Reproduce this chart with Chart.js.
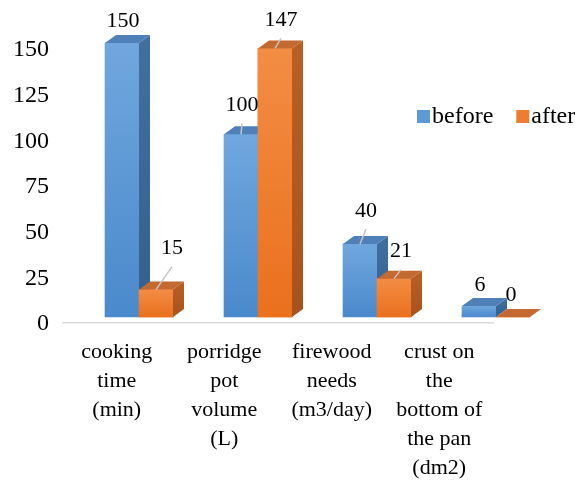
<!DOCTYPE html>
<html>
<head>
<meta charset="utf-8">
<script src="https://cdn.jsdelivr.net/npm/chart.js@4/dist/chart.umd.min.js"></script>
<style>
  html, body { margin: 0; padding: 0; background: #ffffff; }
  #wrap { width: 580px; height: 482px; }
</style>
</head>
<body>
<div id="wrap"><canvas id="chart" width="580" height="482"></canvas></div>
<script>
// ---- data ----
const categories = [
  ['cooking', 'time', '(min)'],
  ['porridge', 'pot', 'volume', '(L)'],
  ['firewood', 'needs', '(m3/day)'],
  ['crust on', 'the', 'bottom of', 'the pan', '(dm2)']
];
const seriesNames = ['before', 'after'];
const beforeValues = [150, 100, 40, 6];
const afterValues = [15, 147, 21, 0];
const yTicks = [0, 25, 50, 75, 100, 125, 150];

// ---- layout / style ----
// value-label placement relative to the top-front centre of each bar, px
const beforeLabelShift = [[1, -22], [1, -29], [6, -33], [1, -21]];
const afterLabelShift = [[16, -41], [6, -28], [7, -27], [-2, -22]];

const SERIF = '"Liberation Serif", "Times New Roman", Times, serif';
const DEPTH_X = 11;     // extrusion of the 3D bars to the right
const DEPTH_Y = 8;      // extrusion of the 3D bars upwards
const BAR_W = 34;
const PLOT_LEFT = 63, PLOT_RIGHT = 493;
const FIRST_GROUP_PX = 139, GROUP_STEP_PX = 119;

const palette = {
  before: { frontTop: '#70a7de', frontBottom: '#4a89cc', sideTop: '#41709f', sideBottom: '#345f8f', top: '#4f80b7', key: '#5b9bd5' },
  after:  { frontTop: '#f38d44', frontBottom: '#ea701d', sideTop: '#b95f25', sideBottom: '#a8521b', top: '#c4692f', key: '#ed7d31' }
};

// the bar index axis is linear so the perspective-shifted groups can sit
// independently of the floor category labels
const idxMin = -(FIRST_GROUP_PX - PLOT_LEFT) / GROUP_STEP_PX;
const idxMax = idxMin + (PLOT_RIGHT - PLOT_LEFT) / GROUP_STEP_PX;

function frontFill(pal) {
  return (c) => {
    const chart = c.chart;
    if (!chart.chartArea || !c.parsed) return pal.frontBottom;
    const ys = chart.scales.y;
    const top = ys.getPixelForValue(c.parsed.y);
    const base = ys.getPixelForValue(0);
    if (base - top < 1) return pal.frontBottom;
    const g = chart.ctx.createLinearGradient(0, top, 0, base);
    g.addColorStop(0, pal.frontTop);
    g.addColorStop(1, pal.frontBottom);
    return g;
  };
}

function drawDepth(ctx, el, pal) {
  const { x, y, base, width } = el.getProps(['x', 'y', 'base', 'width'], true);
  const l = x - width / 2, r = x + width / 2;
  if (base - y > 0.5) {
    const g = ctx.createLinearGradient(0, y - DEPTH_Y, 0, base);
    g.addColorStop(0, pal.sideTop);
    g.addColorStop(1, pal.sideBottom);
    ctx.fillStyle = g;
    ctx.beginPath();
    ctx.moveTo(r, y);
    ctx.lineTo(r + DEPTH_X, y - DEPTH_Y);
    ctx.lineTo(r + DEPTH_X, base - DEPTH_Y);
    ctx.lineTo(r, base);
    ctx.closePath();
    ctx.fill();
  }
  ctx.fillStyle = pal.top;
  ctx.beginPath();
  ctx.moveTo(l, y);
  ctx.lineTo(r, y);
  ctx.lineTo(r + DEPTH_X, y - DEPTH_Y);
  ctx.lineTo(l + DEPTH_X, y - DEPTH_Y);
  ctx.closePath();
  ctx.fill();
}

const bars3d = {
  id: 'bars3d',
  afterDatasetsDraw(chart) {
    const ctx = chart.ctx;
    const metaB = chart.getDatasetMeta(0);
    const metaA = chart.getDatasetMeta(1);
    ctx.save();
    // painter's order: back bar, then the bar standing in front of its side
    metaB.data.forEach((elB, i) => {
      const elA = metaA.data[i];
      drawDepth(ctx, elB, palette.before);
      elA.draw(ctx);
      drawDepth(ctx, elA, palette.after);
    });

    // value labels with leader lines
    const shifts = [beforeLabelShift, afterLabelShift];
    ctx.font = '22px ' + SERIF;
    ctx.textAlign = 'center';
    ctx.textBaseline = 'middle';
    [metaB, metaA].forEach((meta, d) => {
      const ds = chart.data.datasets[d];
      meta.data.forEach((el, i) => {
        const { x, y } = el.getProps(['x', 'y'], true);
        const [dx, dy] = shifts[d][i];
        const lx = x + dx, ly = y + dy;
        if (dy < -24) {
          ctx.strokeStyle = '#c4c4c4';
          ctx.lineWidth = 1.5;
          ctx.beginPath();
          ctx.moveTo(x, y);
          ctx.lineTo(lx, ly + 18);
          ctx.stroke();
        }
        ctx.fillStyle = '#000000';
        ctx.fillText(String(ds.data[i].y), lx, ly);
      });
    });

    // legend
    ctx.font = '24px ' + SERIF;
    ctx.textAlign = 'left';
    ctx.textBaseline = 'middle';
    let lx = 417;
    const ly = 117;
    chart.data.datasets.forEach((ds) => {
      ctx.fillStyle = ds.keyColor;
      ctx.fillRect(lx, ly - 7, 13, 13);
      lx += 15;
      ctx.fillStyle = '#000000';
      ctx.fillText(ds.label, lx, ly);
      lx += ctx.measureText(ds.label).width + 23;
    });
    ctx.restore();
  }
};

const toPoints = (vals) => vals.map((v, i) => ({ x: i, y: v }));

new Chart(document.getElementById('chart'), {
  type: 'bar',
  data: {
    labels: categories,
    datasets: [
      {
        label: seriesNames[0], data: toPoints(beforeValues), xAxisID: 'xb',
        backgroundColor: frontFill(palette.before), keyColor: palette.before.key,
        barThickness: BAR_W, borderWidth: 0, clip: false
      },
      {
        label: seriesNames[1], data: toPoints(afterValues), xAxisID: 'xb',
        backgroundColor: frontFill(palette.after), keyColor: palette.after.key,
        barThickness: BAR_W, borderWidth: 0, clip: false
      }
    ]
  },
  options: {
    responsive: false,
    animation: false,
    layout: { padding: { top: 43, right: 580 - PLOT_RIGHT, bottom: 0, left: 0 } },
    plugins: { legend: { display: false }, tooltip: { enabled: false } },
    scales: {
      x: {
        type: 'category',
        position: 'bottom',
        offset: true,
        grid: { display: false, drawTicks: false },
        border: { display: true, color: '#d9d9d9', width: 1.5 },
        ticks: {
          font: { family: SERIF, size: 22, lineHeight: '29px' },
          color: '#000000',
          padding: 15,
          maxRotation: 0,
          minRotation: 0,
          autoSkip: false
        },
        afterFit: (s) => { s.height = 159; }
      },
      xb: {
        type: 'linear', display: false, offset: false,
        grid: { offset: false },
        min: idxMin, max: idxMax
      },
      y: {
        min: -3.28,
        max: 150,
        grid: { display: false, drawTicks: false },
        border: { display: false },
        ticks: {
          font: { family: SERIF, size: 24 },
          color: '#000000',
          padding: 14,
          labelOffset: 7
        },
        afterBuildTicks: (s) => { s.ticks = yTicks.map((v) => ({ value: v })); },
        afterFit: (s) => { s.width = PLOT_LEFT; }
      }
    }
  },
  plugins: [bars3d]
});
</script>
</body>
</html>
